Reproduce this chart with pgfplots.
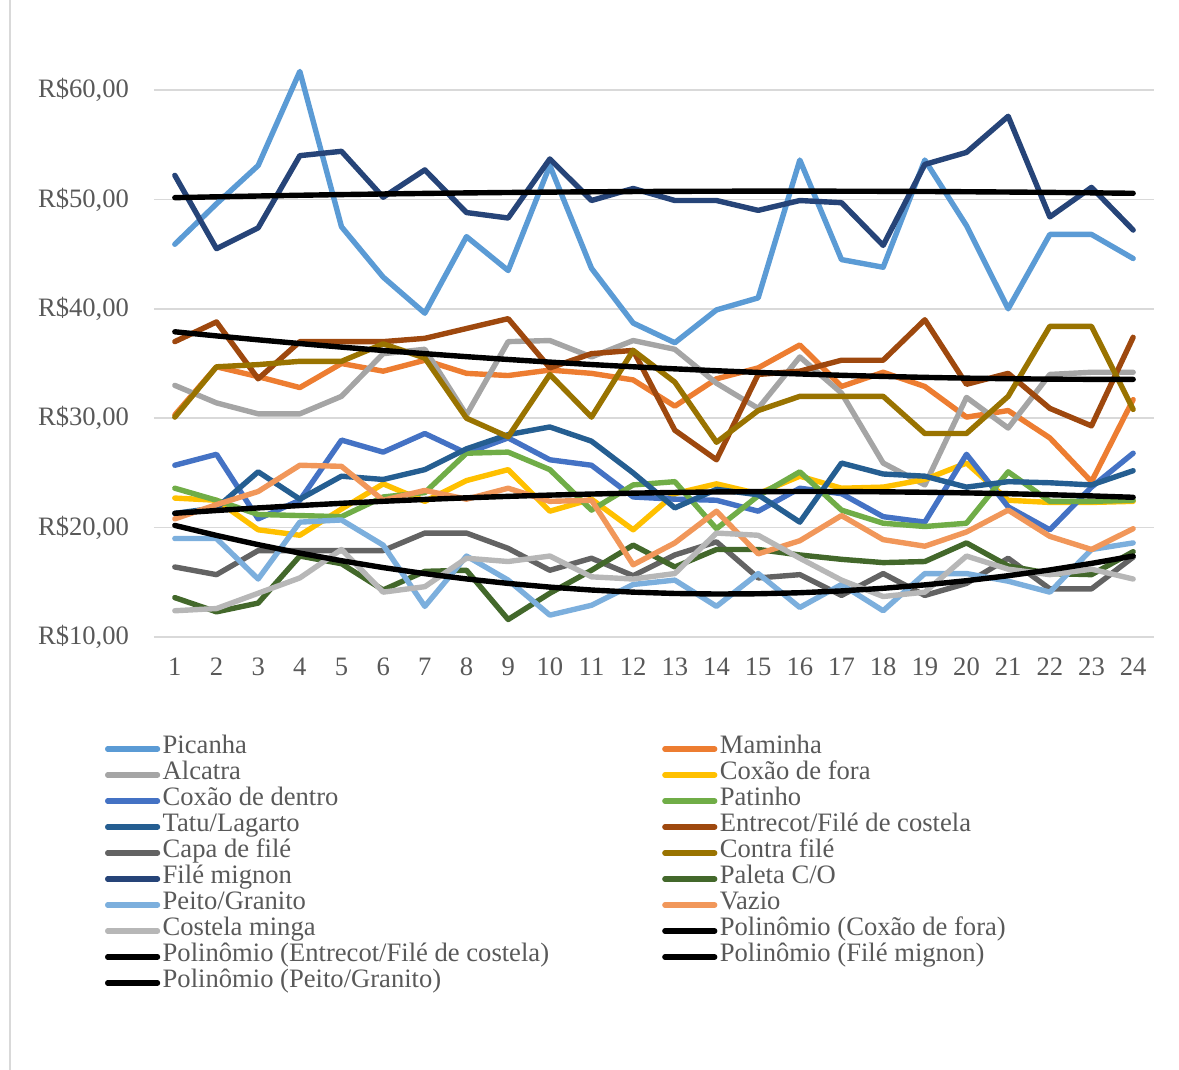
\documentclass[border=0pt]{standalone}
\usepackage{pgfplots}
\pgfplotsset{compat=1.18}
\usepackage{pgfplotstable}
\usepackage{fontspec}
\setmainfont{Liberation Serif}
\definecolor{txt}{HTML}{595959}
\definecolor{gridc}{HTML}{D9D9D9}
\definecolor{cPic}{HTML}{5B9BD5}
\definecolor{cMam}{HTML}{ED7D31}
\definecolor{cAlc}{HTML}{A5A5A5}
\definecolor{cCfo}{HTML}{FFC000}
\definecolor{cCde}{HTML}{4472C4}
\definecolor{cPat}{HTML}{70AD47}
\definecolor{cTat}{HTML}{255E91}
\definecolor{cEnt}{HTML}{9E480E}
\definecolor{cCap}{HTML}{636363}
\definecolor{cCon}{HTML}{997300}
\definecolor{cFm}{HTML}{264478}
\definecolor{cPal}{HTML}{43682B}
\definecolor{cPei}{HTML}{7CAFDD}
\definecolor{cVaz}{HTML}{F1975A}
\definecolor{cCos}{HTML}{B7B7B7}

\pgfplotstableread{
x pic mam alc cfo cde pat tat ent cap con fm pal pei vaz cos
1 45.9 30.3 33.0 22.7 25.7 23.6 21.3 37.0 16.4 30.1 52.2 13.6 19.0 20.8 12.4
2 49.6 34.7 31.4 22.5 26.7 22.5 21.8 38.8 15.7 34.7 45.5 12.3 19.0 22.1 12.6
3 53.1 33.8 30.4 19.8 20.8 21.2 25.1 33.6 17.9 34.9 47.4 13.1 15.3 23.3 14.0
4 61.7 32.8 30.4 19.3 22.5 21.1 22.6 37.0 17.9 35.2 54.0 17.4 20.5 25.7 15.4
5 47.5 35.0 32.0 21.7 28.0 21.0 24.7 37.0 17.9 35.2 54.4 16.7 20.7 25.6 18.0
6 42.9 34.3 35.9 24.0 26.9 22.8 24.4 37.0 17.9 36.8 50.2 14.3 18.4 22.5 14.1
7 39.6 35.3 36.3 22.4 28.6 23.2 25.3 37.3 19.5 35.5 52.7 16.0 12.8 23.4 14.6
8 46.6 34.1 30.3 24.3 26.8 26.8 27.2 38.2 19.5 30.0 48.8 16.1 17.4 22.6 17.2
9 43.5 33.9 37.0 25.3 28.2 26.9 28.5 39.1 18.1 28.3 48.3 11.6 15.2 23.6 16.9
10 53.1 34.4 37.1 21.5 26.2 25.3 29.2 34.6 16.1 34.0 53.7 14.0 12.0 22.4 17.4
11 43.7 34.1 35.6 22.6 25.7 21.6 27.9 35.9 17.2 30.1 49.9 16.1 12.9 22.5 15.5
12 38.7 33.5 37.1 19.8 22.8 23.9 25.0 36.2 15.6 36.2 51.0 18.4 14.8 16.6 15.3
13 36.9 31.1 36.3 23.1 22.6 24.2 21.8 28.9 17.5 33.3 49.9 16.4 15.2 18.6 15.8
14 39.9 33.6 33.2 24.0 22.5 19.9 23.5 26.2 18.7 27.8 49.9 18.0 12.8 21.5 19.5
15 41.0 34.6 30.9 23.1 21.5 22.9 23.0 34.0 15.4 30.7 49.0 18.0 15.8 17.6 19.3
16 53.6 36.7 35.6 24.7 23.6 25.1 20.5 34.3 15.7 32.0 49.9 17.5 12.7 18.8 17.2
17 44.5 32.9 32.3 23.6 23.1 21.6 25.9 35.3 13.8 32.0 49.7 17.1 14.8 21.1 15.2
18 43.8 34.2 25.9 23.7 21.0 20.4 24.9 35.3 15.8 32.0 45.8 16.8 12.4 18.9 13.7
19 53.6 32.9 23.9 24.4 20.5 20.1 24.7 39.0 13.8 28.6 53.2 16.9 15.8 18.3 14.1
20 47.6 30.1 31.9 25.9 26.7 20.4 23.7 33.1 14.9 28.6 54.3 18.6 15.8 19.6 17.4
21 40.0 30.7 29.1 22.5 21.9 25.1 24.2 34.1 17.2 32.0 57.6 16.5 15.1 21.6 16.2
22 46.8 28.2 34.0 22.3 19.8 22.4 24.1 30.9 14.4 38.4 48.4 15.8 14.1 19.2 15.7
23 46.8 24.2 34.2 22.3 23.7 22.4 23.9 29.3 14.4 38.4 51.1 15.7 18.0 18.0 16.2
24 44.6 31.7 34.2 22.4 26.8 22.5 25.2 37.4 17.3 30.8 47.2 17.8 18.6 19.9 15.3
}\data

\pgfplotstableread{
x tcf tent tfm tpei
1 21.310 37.900 50.160 20.200
2 21.564 37.524 50.239 19.285
3 21.800 37.166 50.312 18.442
4 22.019 36.824 50.380 17.671
5 22.221 36.499 50.442 16.972
6 22.406 36.191 50.498 16.345
7 22.573 35.900 50.549 15.791
8 22.723 35.626 50.595 15.308
9 22.856 35.369 50.634 14.898
10 22.971 35.129 50.669 14.560
11 23.069 34.906 50.697 14.294
12 23.150 34.700 50.720 14.100
13 23.213 34.511 50.738 13.978
14 23.260 34.339 50.749 13.929
15 23.289 34.184 50.756 13.951
16 23.300 34.046 50.756 14.046
17 23.294 33.924 50.751 14.213
18 23.271 33.820 50.741 14.452
19 23.231 33.733 50.725 14.763
20 23.173 33.662 50.703 15.146
21 23.099 33.609 50.675 15.601
22 23.006 33.572 50.643 16.129
23 22.897 33.553 50.604 16.728
24 22.770 33.550 50.560 17.400
}\trend

\newcommand\Lone[1]{\makebox[248.5pt][l]{#1}}

\begin{document}
\begin{tikzpicture}[x=1pt,y=1pt]
\useasboundingbox (-77,-216.5) rectangle (512.5,318.5);
\draw[gridc, line width=0.75pt] (-72,-216.5) -- (-72,318.5);
\begin{axis}[
  at={(0,0)}, anchor=south west,
  scale only axis, width=500pt, height=318.5pt,
  xmin=0.5, xmax=24.5, ymin=10, ymax=68.23,
  clip=false,
  axis line style={draw=none},
  tick style={draw=none},
  ymajorgrids, grid style={color=gridc, line width=0.75pt},
  ytick={10,20,30,40,50,60},
  yticklabels={{R\$10,00},{R\$20,00},{R\$30,00},{R\$40,00},{R\$50,00},{R\$60,00}},
  xtick={1,...,24},
  xticklabels={1,2,3,4,5,6,7,8,9,10,11,12,13,14,15,16,17,18,19,20,21,22,23,24},
  ticklabel style={font=\fontsize{13.3}{16}\selectfont, text=txt},
  yticklabel style={xshift=-9pt},
  xticklabel style={yshift=-6.8pt},
  every axis plot/.append style={line width=2.7pt, line join=round, line cap=round, mark=none},
  legend columns=2,
  legend cell align=left,
  legend style={at={(axis description cs:-0.049,-0.1554)}, anchor=north west,
    draw=none, fill=none, inner sep=0pt, outer sep=0pt, row sep=0pt, column sep=0pt,
    font=\fontsize{13.3}{16}\selectfont, text=txt,
    nodes={inner sep=1.25pt, text height=7.5pt, text depth=3pt}},
  legend image code/.code={\draw[#1] (1.3pt,0pt) -- (26.2pt,0pt);},
]
\addplot[color=cPic] table[x=x,y=pic]{\data}; \addlegendentry{\Lone{Picanha}}
\addplot[color=cMam] table[x=x,y=mam]{\data}; \addlegendentry{Maminha}
\addplot[color=cAlc] table[x=x,y=alc]{\data}; \addlegendentry{\Lone{Alcatra}}
\addplot[color=cCfo] table[x=x,y=cfo]{\data}; \addlegendentry{Coxão de fora}
\addplot[color=cCde] table[x=x,y=cde]{\data}; \addlegendentry{\Lone{Coxão de dentro}}
\addplot[color=cPat] table[x=x,y=pat]{\data}; \addlegendentry{Patinho}
\addplot[color=cTat] table[x=x,y=tat]{\data}; \addlegendentry{\Lone{Tatu/Lagarto}}
\addplot[color=cEnt] table[x=x,y=ent]{\data}; \addlegendentry{Entrecot/Filé de costela}
\addplot[color=cCap] table[x=x,y=cap]{\data}; \addlegendentry{\Lone{Capa de filé}}
\addplot[color=cCon] table[x=x,y=con]{\data}; \addlegendentry{Contra filé}
\addplot[color=cFm] table[x=x,y=fm]{\data}; \addlegendentry{\Lone{Filé mignon}}
\addplot[color=cPal] table[x=x,y=pal]{\data}; \addlegendentry{Paleta C/O}
\addplot[color=cPei] table[x=x,y=pei]{\data}; \addlegendentry{\Lone{Peito/Granito}}
\addplot[color=cVaz] table[x=x,y=vaz]{\data}; \addlegendentry{Vazio}
\addplot[color=cCos] table[x=x,y=cos]{\data}; \addlegendentry{\Lone{Costela minga}}
\addplot[color=black] table[x=x,y=tcf]{\trend}; \addlegendentry{Polinômio (Coxão de fora)}
\addplot[color=black] table[x=x,y=tent]{\trend}; \addlegendentry{\Lone{Polinômio (Entrecot/Filé de costela)}}
\addplot[color=black] table[x=x,y=tfm]{\trend}; \addlegendentry{Polinômio (Filé mignon)}
\addplot[color=black] table[x=x,y=tpei]{\trend}; \addlegendentry{\Lone{Polinômio (Peito/Granito)}}
\end{axis}
\end{tikzpicture}
\end{document}
